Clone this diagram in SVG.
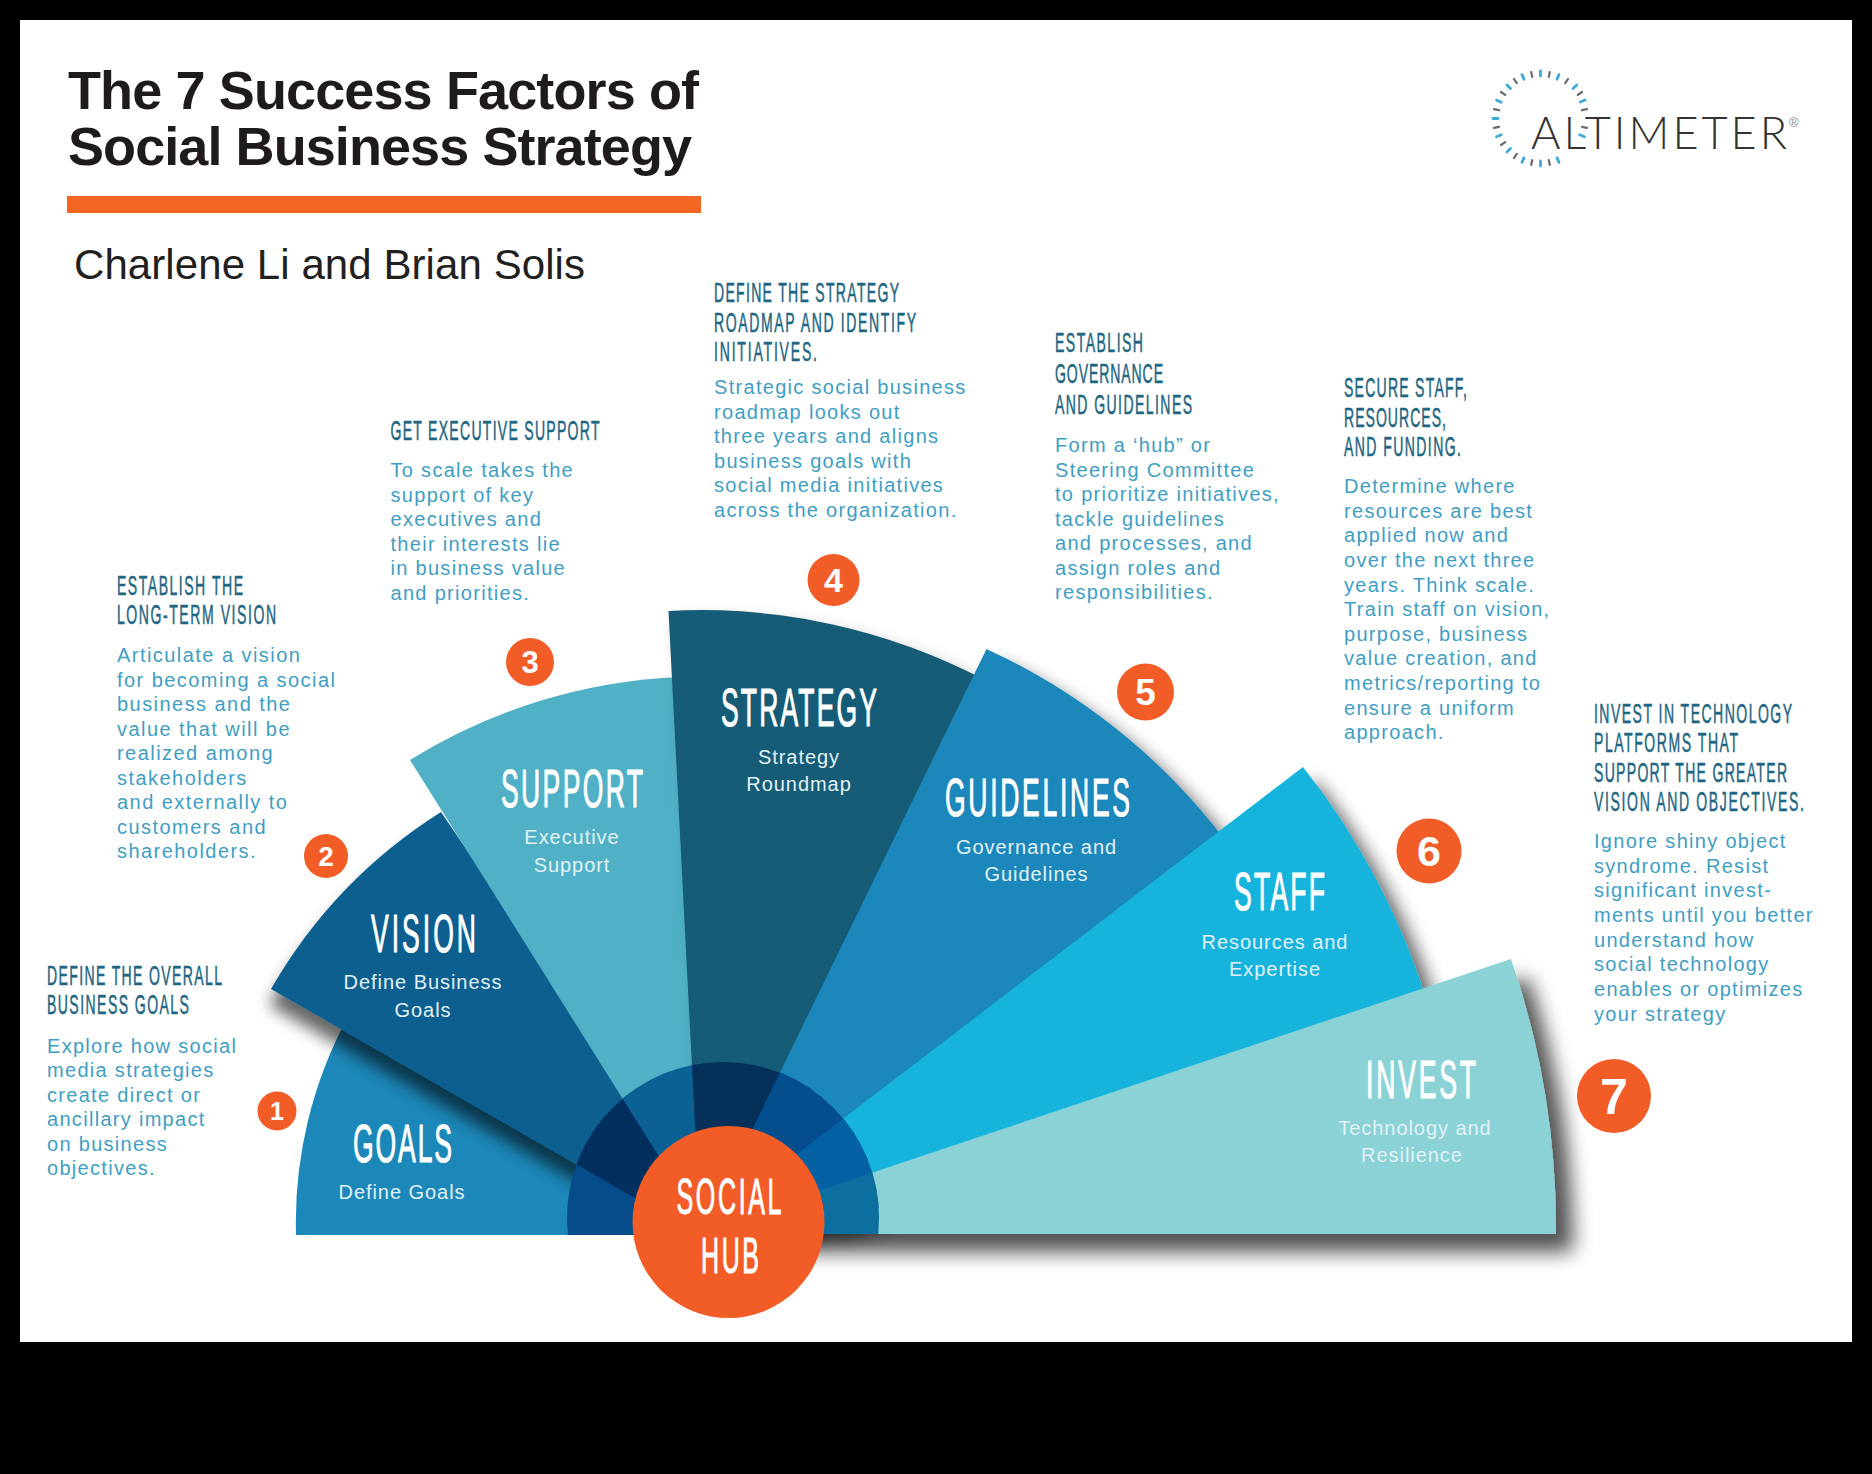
<svg xmlns="http://www.w3.org/2000/svg" width="1872" height="1474" viewBox="0 0 1872 1474">
<style>
text{font-family:"Liberation Sans",Arial,sans-serif}
.title{font-size:54px;font-weight:700;fill:#1f1b1c}
.sub{font-size:42px;fill:#231f20}
.h{font-size:27px;fill:#1f6682;stroke:#1f6682;stroke-width:.55px}
.b{font-size:20px;fill:#3f9ec3;letter-spacing:1.3px}
.big{font-size:53px;fill:#fff;stroke:#fff;stroke-width:1.1px}
.hub{font-size:50px;fill:#fff;stroke:#fff;stroke-width:1.1px}
.lab{font-size:20px;fill:#e2f1f5;letter-spacing:.95px;text-anchor:middle}
.num{font-weight:700;fill:#fff;text-anchor:middle}
.dot{fill:#f15c27}
.tb{stroke:#3fa9dc;stroke-width:2.8;stroke-linecap:round}
.tg{stroke:#6a6a6a;stroke-width:2.2;stroke-linecap:round}
</style>
<defs>
<filter id="sh" x="-25%" y="-25%" width="160%" height="160%"><feGaussianBlur in="SourceAlpha" stdDeviation="9"/><feOffset dx="13" dy="14"/><feComponentTransfer><feFuncA type="linear" slope="0.62"/></feComponentTransfer><feMerge><feMergeNode/><feMergeNode in="SourceGraphic"/></feMerge></filter>
<filter id="shv" x="-25%" y="-25%" width="160%" height="160%"><feGaussianBlur in="SourceAlpha" stdDeviation="8"/><feOffset dx="-2" dy="16"/><feComponentTransfer><feFuncA type="linear" slope="0.6"/></feComponentTransfer><feMerge><feMergeNode/><feMergeNode in="SourceGraphic"/></feMerge></filter>
<filter id="shl" x="-25%" y="-25%" width="160%" height="160%"><feGaussianBlur in="SourceAlpha" stdDeviation="9"/><feOffset dx="10" dy="10"/><feComponentTransfer><feFuncA type="linear" slope="0.3"/></feComponentTransfer><feMerge><feMergeNode/><feMergeNode in="SourceGraphic"/></feMerge></filter>
<filter id="shb" x="-25%" y="-25%" width="160%" height="160%"><feGaussianBlur in="SourceAlpha" stdDeviation="10"/><feOffset dx="17" dy="18"/><feComponentTransfer><feFuncA type="linear" slope="0.68"/></feComponentTransfer><feMerge><feMergeNode/><feMergeNode in="SourceGraphic"/></feMerge></filter>
<clipPath id="inner"><circle cx="723" cy="1218" r="156"/></clipPath>
<path id="w1" d="M296,1235A432,432 0 0 1 350,1013L728,1222L728,1235Z"/>
<path id="w2" d="M271,989A510,510 0 0 1 441,812L720,1222L680,1224Z"/>
<path id="w3" d="M410,760A556,556 0 0 1 680,677L720,1222L700,1222Z"/>
<path id="w4" d="M668.5,611A612,612 0 0 1 985,680L760,1222L700,1222Z"/>
<path id="w5" d="M986.5,649A627,627 0 0 1 1225,840L800,1222L707,1222Z"/>
<path id="w6" d="M1303,767A733,733 0 0 1 1430,1011L840,1222L708,1222Z"/>
<path id="w7" d="M1511,959A827,827 0 0 1 1556,1234L728,1234L728,1221Z"/>
</defs>
<rect width="1872" height="1474" fill="#000"/>
<rect x="20" y="20" width="1832" height="1322" fill="#fff"/>
<g id="header">
<text class="title" x="68" y="109" textLength="631">The 7 Success Factors of</text>
<text class="title" x="68" y="165" textLength="624">Social Business Strategy</text>
<rect x="67" y="196" width="634" height="17" fill="#f26522"/>
<text class="sub" x="74" y="279" textLength="511">Charlene Li and Brian Solis</text>
</g>
<g id="logo">
<g class="tb"><line x1="1540.5" y1="71" x2="1540.5" y2="76"/><line x1="1576.8" y1="85" x2="1573.1" y2="88.6"/><line x1="1559" y1="74.6" x2="1557" y2="79.3"/><line x1="1585" y1="100" x2="1580.4" y2="102"/><line x1="1584.4" y1="136.7" x2="1579.7" y2="134.7"/><line x1="1559" y1="162.4" x2="1557" y2="157.7"/><line x1="1540.5" y1="166" x2="1540.5" y2="161"/><line x1="1522" y1="162.4" x2="1524" y2="157.7"/><line x1="1507" y1="152" x2="1510.5" y2="148.5"/><line x1="1496.6" y1="136.7" x2="1501.2" y2="134.7"/><line x1="1493" y1="118.5" x2="1498" y2="118.5"/><line x1="1496.6" y1="100.3" x2="1501.2" y2="102.2"/><line x1="1507" y1="85" x2="1510.5" y2="88.6"/><line x1="1522" y1="74.6" x2="1524" y2="79.3"/></g>
<g class="tg"><line x1="1549.8" y1="72" x2="1548.8" y2="76.9"/><line x1="1568" y1="79" x2="1565.2" y2="83.2"/><line x1="1582" y1="92" x2="1577.8" y2="94.8"/><line x1="1587" y1="109.2" x2="1582" y2="110.2"/><line x1="1587" y1="127.8" x2="1582" y2="126.8"/><line x1="1549.8" y1="165" x2="1548.8" y2="160.1"/><line x1="1531.2" y1="165" x2="1532.2" y2="160.1"/><line x1="1514" y1="158" x2="1516.8" y2="153.8"/><line x1="1501" y1="145" x2="1505.2" y2="142.2"/><line x1="1494" y1="127.8" x2="1499" y2="126.8"/><line x1="1494" y1="109.2" x2="1499" y2="110.2"/><line x1="1501" y1="92" x2="1505.2" y2="94.8"/><line x1="1514" y1="79" x2="1516.8" y2="83.2"/><line x1="1531.2" y1="72" x2="1532.2" y2="76.9"/></g>
<text x="1531" y="149" font-size="45" font-weight="300" fill="#333" style="font-family:Lato,'Liberation Sans',sans-serif" textLength="256" lengthAdjust="spacing">ALTIMETER</text>
<text x="1789" y="127" font-size="13" fill="#888">®</text>
</g>
<g id="factor-1-text">
<text class="h" transform="translate(47,985) scale(.52,1)" textLength="336.5">DEFINE THE OVERALL</text>
<text class="h" transform="translate(47,1014) scale(.52,1)" textLength="273">BUSINESS GOALS</text>
<text class="b"><tspan x="47" y="1052.5">Explore how social</tspan><tspan x="47" y="1077">media strategies</tspan><tspan x="47" y="1101.5">create direct or</tspan><tspan x="47" y="1126">ancillary impact</tspan><tspan x="47" y="1150.5">on business</tspan><tspan x="47" y="1175">objectives.</tspan></text>
</g>
<g id="factor-2-text">
<text class="h" transform="translate(117,595) scale(.52,1)" textLength="242.3">ESTABLISH THE</text>
<text class="h" transform="translate(117,624) scale(.52,1)" textLength="305.8">LONG-TERM VISION</text>
<text class="b" style="letter-spacing:1.45px"><tspan x="117" y="662">Articulate a vision</tspan><tspan x="117" y="686.5">for becoming a social</tspan><tspan x="117" y="711">business and the</tspan><tspan x="117" y="735.5">value that will be</tspan><tspan x="117" y="760">realized among</tspan><tspan x="117" y="784.5">stakeholders</tspan><tspan x="117" y="809">and externally to</tspan><tspan x="117" y="833.5">customers and</tspan><tspan x="117" y="858">shareholders.</tspan></text>
</g>
<g id="factor-3-text">
<text class="h" transform="translate(390.5,440) scale(.52,1)" textLength="401.9">GET EXECUTIVE SUPPORT</text>
<text class="b"><tspan x="390.5" y="477">To scale takes the</tspan><tspan x="390.5" y="501.6">support of key</tspan><tspan x="390.5" y="526">executives and</tspan><tspan x="390.5" y="550.6">their interests lie</tspan><tspan x="390.5" y="575">in business value</tspan><tspan x="390.5" y="600">and priorities.</tspan></text>
</g>
<g id="factor-4-text">
<text class="h" transform="translate(714,302) scale(.52,1)" textLength="355.8">DEFINE THE STRATEGY</text>
<text class="h" transform="translate(714,332) scale(.52,1)" textLength="388.5">ROADMAP AND IDENTIFY</text>
<text class="h" transform="translate(714,361) scale(.52,1)" textLength="198">INITIATIVES.</text>
<text class="b"><tspan x="714" y="394">Strategic social business</tspan><tspan x="714" y="419">roadmap looks out</tspan><tspan x="714" y="443">three years and aligns</tspan><tspan x="714" y="467.5">business goals with</tspan><tspan x="714" y="492">social media initiatives</tspan><tspan x="714" y="517">across the organization.</tspan></text>
</g>
<g id="factor-5-text">
<text class="h" transform="translate(1055,352) scale(.52,1)" textLength="169.2">ESTABLISH</text>
<text class="h" transform="translate(1055,383) scale(.52,1)" textLength="207.7">GOVERNANCE</text>
<text class="h" transform="translate(1055,414) scale(.52,1)" textLength="263.5">AND GUIDELINES</text>
<text class="b"><tspan x="1055" y="452">Form a ‘hub” or</tspan><tspan x="1055" y="476.5">Steering Committee</tspan><tspan x="1055" y="501">to prioritize initiatives,</tspan><tspan x="1055" y="525.5">tackle guidelines</tspan><tspan x="1055" y="550">and processes, and</tspan><tspan x="1055" y="574.5">assign roles and</tspan><tspan x="1055" y="599">responsibilities.</tspan></text>
</g>
<g id="factor-6-text">
<text class="h" transform="translate(1344,397) scale(.52,1)" textLength="236.5">SECURE STAFF,</text>
<text class="h" transform="translate(1344,427) scale(.52,1)" textLength="196.2">RESOURCES,</text>
<text class="h" transform="translate(1344,456) scale(.52,1)" textLength="225">AND FUNDING.</text>
<text class="b"><tspan x="1344" y="493">Determine where</tspan><tspan x="1344" y="517.6">resources are best</tspan><tspan x="1344" y="542">applied now and</tspan><tspan x="1344" y="566.6">over the next three</tspan><tspan x="1344" y="591.5">years. Think scale.</tspan><tspan x="1344" y="616">Train staff on vision,</tspan><tspan x="1344" y="640.6">purpose, business</tspan><tspan x="1344" y="665">value creation, and</tspan><tspan x="1344" y="690">metrics/reporting to</tspan><tspan x="1344" y="714.6">ensure a uniform</tspan><tspan x="1344" y="739">approach.</tspan></text>
</g>
<g id="factor-7-text">
<text class="h" transform="translate(1594,723) scale(.52,1)" textLength="380.8">INVEST IN TECHNOLOGY</text>
<text class="h" transform="translate(1594,752) scale(.52,1)" textLength="276.9">PLATFORMS THAT</text>
<text class="h" transform="translate(1594,782) scale(.52,1)" textLength="371.2">SUPPORT THE GREATER</text>
<text class="h" transform="translate(1594,811) scale(.52,1)" textLength="403.8">VISION AND OBJECTIVES.</text>
<text class="b"><tspan x="1594" y="848">Ignore shiny object</tspan><tspan x="1594" y="872.5">syndrome. Resist</tspan><tspan x="1594" y="897">significant invest-</tspan><tspan x="1594" y="922">ments until you better</tspan><tspan x="1594" y="946.5">understand how</tspan><tspan x="1594" y="971">social technology</tspan><tspan x="1594" y="995.5">enables or optimizes</tspan><tspan x="1594" y="1020.5">your strategy</tspan></text>
</g>
<g id="goals"><use href="#w1" fill="#1c87b9"/>
<text class="big" transform="translate(353,1161.5) scale(.5,1)" textLength="198">GOALS</text>
<text class="lab" x="402" y="1199">Define Goals</text></g>
<g id="vision"><use href="#w2" fill="#0f5f8f" filter="url(#shv)"/>
<text class="big" transform="translate(371,951.5) scale(.5,1)" textLength="210">VISION</text>
<text class="lab" x="423" y="989">Define Business</text><text class="lab" x="423" y="1017">Goals</text></g>
<g id="support"><use href="#w3" fill="#50b1c6"/>
<text class="big" transform="translate(501,807) scale(.5,1)" textLength="284">SUPPORT</text>
<text class="lab" x="572" y="844">Executive</text><text class="lab" x="572" y="872">Support</text></g>
<g id="strategy"><use href="#w4" fill="#185c77" filter="url(#shl)"/>
<text class="big" transform="translate(721,726) scale(.5,1)" textLength="312">STRATEGY</text>
<text class="lab" x="799" y="764">Strategy</text><text class="lab" x="799" y="791">Roundmap</text></g>
<g id="guidelines"><use href="#w5" fill="#1b87ba" filter="url(#sh)"/>
<text class="big" transform="translate(945,815.5) scale(.5,1)" textLength="370">GUIDELINES</text>
<text class="lab" x="1036.5" y="854">Governance and</text><text class="lab" x="1036.5" y="881">Guidelines</text></g>
<g id="staff"><use href="#w6" fill="#16b3dd" filter="url(#sh)"/>
<text class="big" transform="translate(1234,910) scale(.5,1)" textLength="182">STAFF</text>
<text class="lab" x="1275" y="949">Resources and</text><text class="lab" x="1275" y="976">Expertise</text></g>
<g id="invest"><use href="#w7" fill="#8ad2d6" filter="url(#shb)"/>
<text class="big" transform="translate(1366,1098) scale(.5,1)" textLength="220">INVEST</text>
<text class="lab" x="1415" y="1135">Technology and</text><text class="lab" x="1412" y="1162">Resilience</text></g>
<g id="inner-ring" clip-path="url(#inner)">
<use href="#w1" fill="#064c8a"/><use href="#w2" fill="#032f5f"/><use href="#w3" fill="#0b6094"/><use href="#w4" fill="#04305a"/><use href="#w5" fill="#054e8e"/><use href="#w6" fill="#0462a4"/><use href="#w7" fill="#0c6f9f"/>
</g>
<g id="social-hub"><circle cx="728.5" cy="1222" r="96" fill="#f15c27"/>
<text class="hub" transform="translate(676.5,1214) scale(.5,1)" textLength="210">SOCIAL</text>
<text class="hub" transform="translate(701,1272.5) scale(.5,1)" textLength="116">HUB</text></g>
<g id="badge-1"><circle class="dot" cx="277" cy="1111" r="19.5"/><text class="num" x="277" y="1120" font-size="25">1</text></g>
<g id="badge-2"><circle class="dot" cx="326" cy="856" r="22"/><text class="num" x="326" y="866" font-size="28">2</text></g>
<g id="badge-3"><circle class="dot" cx="530" cy="662" r="24"/><text class="num" x="530" y="673" font-size="31">3</text></g>
<g id="badge-4"><circle class="dot" cx="833.5" cy="580" r="26"/><text class="num" x="833.5" y="592" font-size="34">4</text></g>
<g id="badge-5"><circle class="dot" cx="1145.5" cy="692" r="28.5"/><text class="num" x="1145.5" y="705" font-size="37">5</text></g>
<g id="badge-6"><circle class="dot" cx="1429" cy="851" r="32.5"/><text class="num" x="1429" y="866" font-size="43">6</text></g>
<g id="badge-7"><circle class="dot" cx="1614" cy="1096" r="37"/><text class="num" x="1614" y="1114" font-size="50">7</text></g>
<g id="connectors"/>
</svg>
